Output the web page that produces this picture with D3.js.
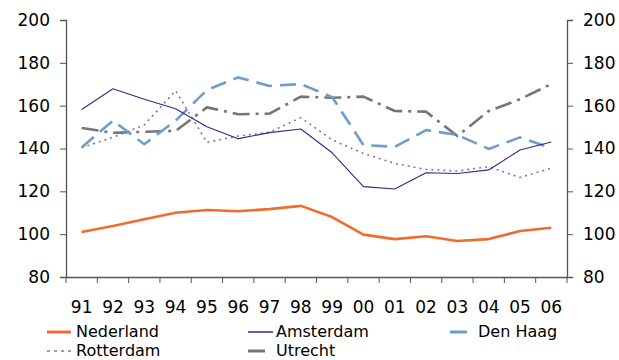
<!DOCTYPE html>
<html>
<head>
<meta charset="utf-8">
<script src="https://cdn.jsdelivr.net/npm/d3@7"></script>
<style>
  body { margin: 0; background: #fff; }
  svg text { font-family: "DejaVu Sans", Verdana, sans-serif; font-size: 17px; fill: #000; }
  svg .legend text { font-size: 16px; }
</style>
</head>
<body>
<svg id="chart" width="619" height="360"></svg>
<script>
// jaren en indexcijfers
var years = ["91","92","93","94","95","96","97","98","99","00","01","02","03","04","05","06"];
var nederland = [101, 103.8, 107, 110, 111.3, 110.7, 111.7, 113.2, 108, 99.8, 97.7, 99, 96.8, 97.7, 101.5, 103];
var amsterdam = [158.2, 167.9, 163, 158.6, 150.2, 144.6, 147.4, 149.1, 138, 122.2, 121.1, 128.7, 128.3, 130, 139.3, 143];
var denHaag   = [140.5, 153, 142, 153, 167.3, 173.2, 169.2, 170.1, 164, 141.6, 140.8, 148.6, 146.3, 139.8, 145.2, 140.1];
var rotterdam = [140.4, 145.2, 151, 167, 142.9, 145.8, 147.6, 154.4, 144, 137.7, 133, 130.2, 129.5, 131.5, 126.5, 130.8];
var utrecht   = [149.6, 147.3, 147.8, 148.2, 159.2, 156, 156.3, 164.2, 163.7, 164.2, 157.5, 157.2, 145.8, 157.5, 163, 170.1];
var yTicks = [80, 100, 120, 140, 160, 180, 200];

var series = [
  {name: "Nederland", values: nederland, color: "#f26b2e", width: 2.6, dash: null},
  {name: "Amsterdam", values: amsterdam, color: "#2e2a8c", width: 1.1, dash: null},
  {name: "Den Haag",  values: denHaag,   color: "#6f9dcb", width: 2.6, dash: "16,8"},
  {name: "Rotterdam", values: rotterdam, color: "#9a6a9c", width: 1.6, dash: "2,4"},
  {name: "Utrecht",   values: utrecht,   color: "#767676", width: 2.6, dash: "17,6,3,6"}
];

var margin = {top: 20, left: 66, right: 52, bottom: 83};
var svg = d3.select("#chart");
var width = 619 - margin.left - margin.right,
    height = 360 - margin.top - margin.bottom;

var g = svg.append("g")
    .attr("transform", "translate(" + margin.left + "," + margin.top + ")");

var x = d3.scaleBand().domain(years).range([0, width]);
var y = d3.scaleLinear().domain([80, 200]).range([height, 0]);

// assen
var left = g.append("g")
    .call(d3.axisLeft(y).tickValues(yTicks).tickSize(6).tickPadding(10));
var right = g.append("g")
    .attr("transform", "translate(" + width + ",0)")
    .call(d3.axisRight(y).tickValues(yTicks).tickSize(6).tickPadding(10));
var bottom = g.append("g")
    .attr("transform", "translate(0," + height + ")")
    .call(d3.axisBottom(x).tickSize(0).tickPadding(24));

// tick marks on band edges
bottom.selectAll(".edge")
    .data(d3.range(years.length + 1))
    .enter().append("line")
      .attr("x1", function(i) { return i * x.step(); })
      .attr("x2", function(i) { return i * x.step(); })
      .attr("y1", 0).attr("y2", 6)
      .attr("stroke", "#555");

[left, right, bottom].forEach(function(a) {
  a.select(".domain").attr("stroke", "#555").attr("stroke-width", 1.3);
  a.selectAll(".tick line").attr("stroke", "#555");
  a.selectAll("text").attr("font-size", null).attr("font-family", null);
});

var line = d3.line()
    .x(function(d, i) { return x(years[i]) + x.bandwidth() / 2; })
    .y(function(d) { return y(d); });

// volgorde van tekenen
var order = ["Nederland", "Utrecht", "Rotterdam", "Den Haag", "Amsterdam"];
order.forEach(function(n) {
  var s = series.find(function(d) { return d.name === n; });
  g.append("path")
    .attr("d", line(s.values))
    .attr("fill", "none")
    .attr("stroke", s.color)
    .attr("stroke-width", s.width)
    .attr("stroke-dasharray", s.dash)
    .attr("stroke-linejoin", "round");
});

// legenda
var legendPos = [
  {x: 47, y: 332, len: 24}, {x: 248, y: 332, len: 25}, {x: 450, y: 332, len: 17},
  {x: 47, y: 351, len: 24}, {x: 248, y: 351, len: 17}
];
var legend = svg.append("g").attr("class", "legend");
series.forEach(function(s, i) {
  var p = legendPos[i];
  legend.append("line")
    .attr("x1", p.x).attr("x2", p.x + p.len)
    .attr("y1", p.y).attr("y2", p.y)
    .attr("stroke", s.color)
    .attr("stroke-width", s.name === "Amsterdam" ? 1.5 : (s.name === "Rotterdam" ? 1.6 : 3))
    .attr("stroke-dasharray", s.name === "Rotterdam" ? "3,4" : null);
  legend.append("text")
    .attr("x", i % 3 === 0 ? 76 : (i === 2 ? 478 : 276))
    .attr("y", p.y + 5)
    .text(s.name);
});
</script>
</body>
</html>
